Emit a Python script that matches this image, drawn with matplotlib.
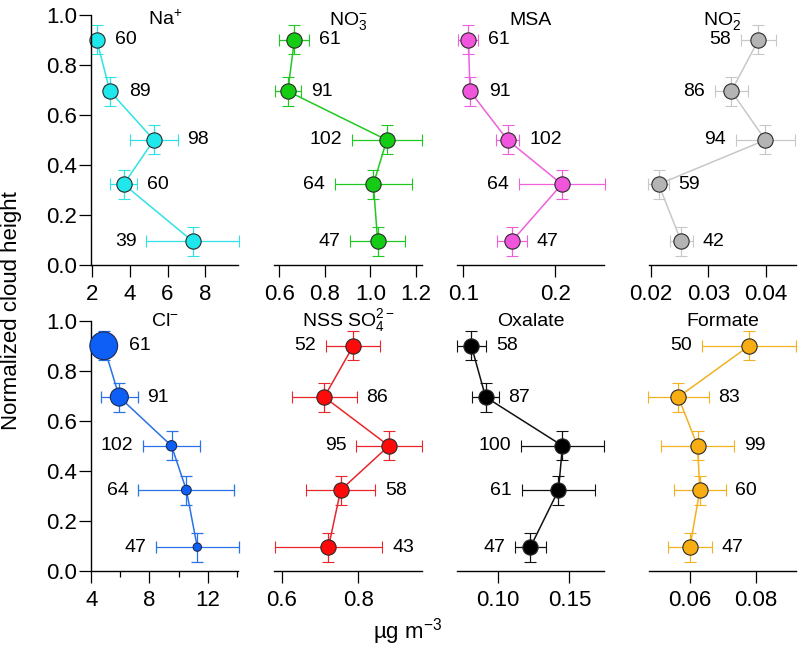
import matplotlib
matplotlib.use("Agg")
import matplotlib.pyplot as plt
from matplotlib.ticker import FixedLocator

plt.rcParams["font.family"] = ["Liberation Sans", "DejaVu Sans"]
plt.rcParams["mathtext.fontset"] = "custom"
plt.rcParams["mathtext.rm"] = "Liberation Sans"
plt.rcParams["mathtext.it"] = "Liberation Sans:italic"

# normalized cloud height of the five levels (shared by all species)
HEIGHTS = [0.90, 0.695, 0.50, 0.323, 0.095]
HEIGHT_ERR = [0.058, 0.058, 0.058, 0.058, 0.058]

# mean concentration (ug m-3), x error and sample count per level
NA_MEAN = [2.25, 2.95, 5.28, 3.68, 7.33]
NA_ERR = [0.20, 0.30, 1.25, 0.70, 2.45]
NA_N = [60, 89, 98, 60, 39]

NO3_MEAN = [0.666, 0.637, 1.072, 1.013, 1.032]
NO3_ERR = [0.066, 0.058, 0.154, 0.170, 0.120]
NO3_N = [61, 91, 102, 64, 47]

MSA_MEAN = [0.1054, 0.1072, 0.148, 0.2071, 0.1527]
MSA_ERR = [0.011, 0.006, 0.013, 0.047, 0.016]
MSA_N = [61, 91, 102, 64, 47]

NO2_MEAN = [0.0387, 0.0340, 0.0399, 0.0214, 0.0253]
NO2_ERR = [0.0031, 0.0029, 0.0051, 0.0018, 0.0020]
NO2_N = [58, 86, 94, 59, 42]

CL_MEAN = [4.86, 5.93, 9.51, 10.53, 11.28]
CL_ERR = [0.50, 1.25, 1.95, 3.30, 2.85]
CL_N = [61, 91, 102, 64, 47]

SO4_MEAN = [0.787, 0.711, 0.880, 0.754, 0.722]
SO4_ERR = [0.071, 0.085, 0.086, 0.090, 0.141]
SO4_N = [52, 86, 95, 58, 43]

OXA_MEAN = [0.0812, 0.0912, 0.1451, 0.1423, 0.1226]
OXA_ERR = [0.0103, 0.0093, 0.029, 0.0257, 0.011]
OXA_N = [58, 87, 100, 61, 47]

FOR_MEAN = [0.0779, 0.0565, 0.0623, 0.0630, 0.0600]
FOR_ERR = [0.0142, 0.0092, 0.011, 0.0078, 0.0066]
FOR_N = [50, 83, 99, 60, 47]

TITLES = ["Na$^{+}$", "NO$_{3}^{-}$", "MSA", "NO$_{2}^{-}$",
          "Cl$^{-}$", "NSS SO$_{4}^{2-}$", "Oxalate", "Formate"]

# styling / layout of each panel
PANELS = [
    dict(mean=NA_MEAN, err=NA_ERR, n=NA_N, face="#1ee8ec", line="#30e2e6",
         xlim=(1.96, 9.75), ticks=[2, 4, 6, 8], labels=["2", "4", "6", "8"], minor=[],
         side=[1, 1, 1, 1, -1]),
    dict(mean=NO3_MEAN, err=NO3_ERR, n=NO3_N, face="#14cc14", line="#22c822",
         xlim=(0.578, 1.225), ticks=[0.6, 0.8, 1.0, 1.2], labels=["0.6", "0.8", "1.0", "1.2"], minor=[],
         side=[1, 1, -1, -1, -1]),
    dict(mean=MSA_MEAN, err=MSA_ERR, n=MSA_N, face="#f055dc", line="#ee60dc",
         xlim=(0.0928, 0.2530), ticks=[0.1, 0.2], labels=["0.1", "0.2"], minor=[],
         side=[1, 1, 1, -1, 1]),
    dict(mean=NO2_MEAN, err=NO2_ERR, n=NO2_N, face="#b4b4b4", line="#c8c8c8",
         xlim=(0.0197, 0.0452), ticks=[0.02, 0.03, 0.04], labels=["0.02", "0.03", "0.04"], minor=[],
         side=[-1, -1, -1, 1, 1]),
    dict(mean=CL_MEAN, err=CL_ERR, n=CL_N, face="#0d5ff5", line="#2a72e6",
         xlim=(4.0, 14.1), ticks=[4, 8, 12], labels=["4", "8", "12"], minor=[6, 10, 14],
         side=[1, 1, -1, -1, -1], sizes=[20, 13, 7.5, 7, 6]),
    dict(mean=SO4_MEAN, err=SO4_ERR, n=SO4_N, face="#ff0a0a", line="#e8262c",
         xlim=(0.5807, 0.9655), ticks=[0.6, 0.8], labels=["0.6", "0.8"], minor=[],
         side=[-1, 1, -1, 1, 1]),
    dict(mean=OXA_MEAN, err=OXA_ERR, n=OXA_N, face="#000000", line="#111111",
         xlim=(0.0710, 0.1742), ticks=[0.10, 0.15], labels=["0.10", "0.15"], minor=[],
         side=[1, 1, -1, -1, -1]),
    dict(mean=FOR_MEAN, err=FOR_ERR, n=FOR_N, face="#f8ae12", line="#f2b220",
         xlim=(0.0476, 0.0920), ticks=[0.06, 0.08], labels=["0.06", "0.08"], minor=[],
         side=[-1, 1, 1, 1, 1]),
]

LEFTS = [0.114, 0.343, 0.571, 0.811]
BOTTOMS = [0.591, 0.119]
WIDTH, HEIGHT = 0.184, 0.386
TITLE_Y = [0.96, 0.978]
MS = 11
GAP = 7

fig = plt.figure(figsize=(8, 6.48), dpi=100)

for i, p in enumerate(PANELS):
    row, col = divmod(i, 4)
    ax = fig.add_axes([LEFTS[col], BOTTOMS[row], WIDTH, HEIGHT])
    ax.set_xlim(*p["xlim"])
    ax.set_ylim(0, 1.0)
    ax.patch.set_alpha(0)

    sizes = p.get("sizes")
    if sizes is None:
        ax.errorbar(p["mean"], HEIGHTS, xerr=p["err"], yerr=HEIGHT_ERR, fmt="-o",
                    color=p["line"], ecolor=p["line"], mfc=p["face"], mec="#2a2a2a",
                    ms=MS, mew=0.8, lw=1.1, elinewidth=0.9, capsize=4, capthick=0.9,
                    clip_on=False)
        radii = [MS / 2] * len(HEIGHTS)
    else:
        ax.errorbar(p["mean"], HEIGHTS, xerr=p["err"], yerr=HEIGHT_ERR, fmt="-",
                    color=p["line"], ecolor=p["line"], lw=1.1, elinewidth=0.9,
                    capsize=4, capthick=0.9, clip_on=False)
        ax.scatter(p["mean"], HEIGHTS, s=[d ** 2 for d in sizes], color=p["face"],
                   edgecolors="#1a2a55", linewidths=0.8, zorder=3, clip_on=False)
        radii = [d / 2 for d in sizes]

    # sample counts placed just beyond the error bar or marker
    for x, y, e, n, s, r in zip(p["mean"], HEIGHTS, p["err"], p["n"], p["side"], radii):
        x0 = ax.transData.transform((x, y))[0]
        x1 = ax.transData.transform((x + s * e, y))[0]
        ext = max(abs(x1 - x0) * 72 / fig.dpi, r + 1)
        ax.annotate(str(n), (x, y), xytext=(s * (ext + GAP), 0), textcoords="offset points",
                    ha="left" if s > 0 else "right", va="center", fontsize=14)

    ax.text(0.5, TITLE_Y[row], TITLES[i], transform=ax.transAxes, ha="center",
            va="baseline", fontsize=14)

    for side in ["top", "right"]:
        ax.spines[side].set_visible(False)
    ax.spines["bottom"].set_linewidth(1.0)
    ax.xaxis.set_major_locator(FixedLocator(p["ticks"]))
    ax.set_xticklabels(p["labels"])
    ax.xaxis.set_minor_locator(FixedLocator(p["minor"]))
    ax.tick_params(axis="x", which="major", length=8.5, width=0.9, pad=5, labelsize=16)
    ax.tick_params(axis="x", which="minor", length=4.3, width=0.9)
    if col == 0:
        ax.spines["left"].set_linewidth(1.0)
        ax.set_yticks([0.0, 0.2, 0.4, 0.6, 0.8, 1.0])
        ax.set_yticklabels(["0.0", "0.2", "0.4", "0.6", "0.8", "1.0"])
        ax.tick_params(axis="y", length=8.5, width=0.9, pad=1.5, labelsize=16)
    else:
        ax.spines["left"].set_visible(False)
        ax.set_yticks([])

fig.text(0.014, 0.52, "Normalized cloud height", rotation=90, ha="center", va="center",
         fontsize=16)
fig.text(0.51, 0.025, "µg m$^{-3}$", ha="center", va="center", fontsize=16)

fig.savefig("out.png", dpi=100)
